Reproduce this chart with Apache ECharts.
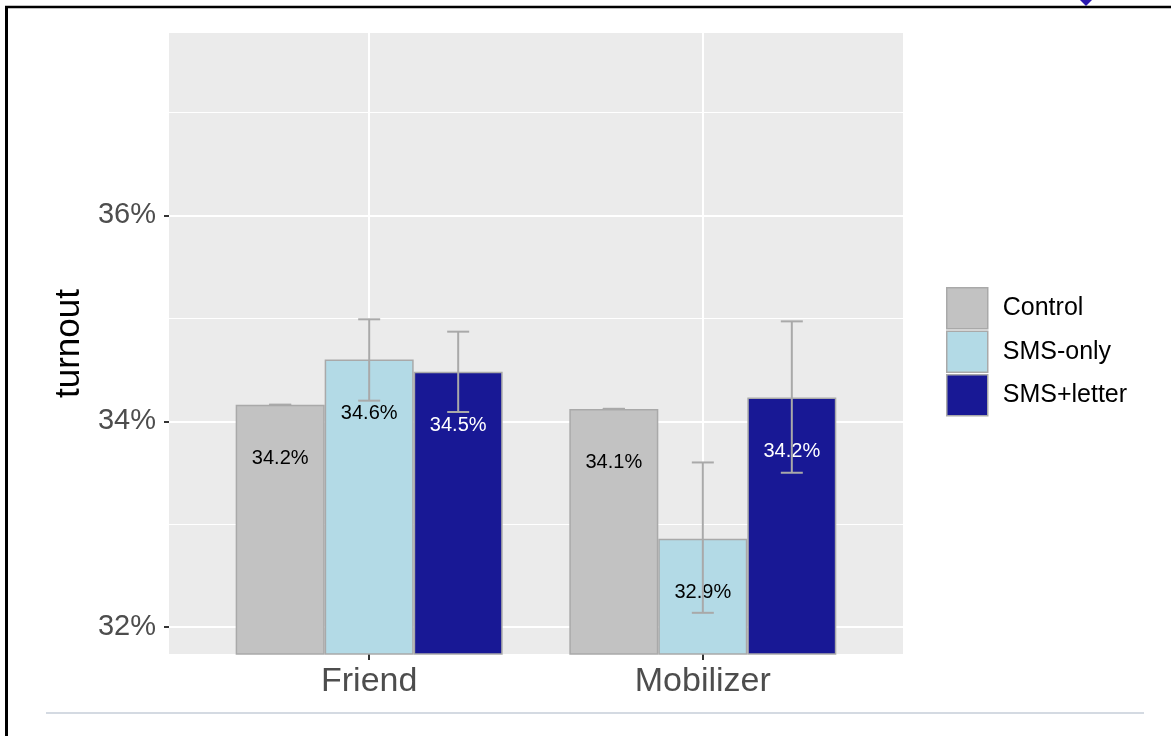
<!DOCTYPE html>
<html>
<head>
<meta charset="utf-8">
<script src="https://cdn.jsdelivr.net/npm/echarts@6/dist/echarts.min.js"></script>
<style>
  html, body { margin: 0; padding: 0; background: #fff; }
  #chart { width: 1171px; height: 736px; }
</style>
</head>
<body>
<div id="chart"></div>
<script>
// groups on the x axis (positions 1 and 2)
const groups = ['Friend', 'Mobilizer'];
const treatments = ['Control', 'SMS-only', 'SMS+letter'];

// turnout in percent, one array per treatment (Friend, Mobilizer)
const control = [34.16, 34.12];
const smsOnly = [34.60, 32.86];
const smsLetter = [34.48, 34.23];

// error bar ends (low, high) per treatment
const controlLow = [34.16, 34.12];
const controlHigh = [34.16, 34.12];
const smsOnlyLow = [34.20, 32.14];
const smsOnlyHigh = [34.99, 33.60];
const smsLetterLow = [34.09, 33.50];
const smsLetterHigh = [34.87, 34.97];

// axis ticks
const yMajor = [32, 34, 36];
const yMinor = [33, 35, 37];
const xTicks = [1, 2];

const colors = ['#C2C2C2', '#B3DAE6', '#181895'];
const labelColors = ['#000000', '#000000', '#ffffff'];
const font = 'Liberation Sans, Arial, sans-serif';
const barW = 89;

const chart = echarts.init(document.getElementById('chart'));

const values = [control, smsOnly, smsLetter];
const lows = [controlLow, smsOnlyLow, smsLetterLow];
const highs = [controlHigh, smsOnlyHigh, smsLetterHigh];

const barSeries = treatments.map((name, i) => ({
  name: name,
  type: 'bar',
  z: 2,
  barWidth: barW,
  barGap: '0%',
  data: values[i].map((v, g) => [g + 1, v]),
  itemStyle: { color: colors[i], borderColor: '#A9A9A9', borderWidth: 1.5 },
  label: {
    show: true,
    position: ['50%', 54],
    align: 'center',
    verticalAlign: 'middle',
    fontFamily: font,
    fontSize: 20,
    color: labelColors[i],
    formatter: p => p.value[1].toFixed(1) + '%'
  }
}));

// error bars: [x, low, high, treatment index]
const errData = [];
treatments.forEach((t, i) => {
  groups.forEach((g, gi) => errData.push([gi + 1, lows[i][gi], highs[i][gi], i]));
});

const errSeries = {
  type: 'custom',
  z: 4,
  silent: true,
  data: errData,
  renderItem: function (params, api) {
    const off = (api.value(3) - 1) * barW;
    const top = api.coord([api.value(0), api.value(2)]);
    const bot = api.coord([api.value(0), api.value(1)]);
    const x = top[0] + off;
    const cap = 11;
    const style = { stroke: '#A9A9A9', lineWidth: 2, fill: null };
    return {
      type: 'group',
      children: [
        { type: 'line', shape: { x1: x, y1: top[1], x2: x, y2: bot[1] }, style: style },
        { type: 'line', shape: { x1: x - cap, y1: top[1], x2: x + cap, y2: top[1] }, style: style },
        { type: 'line', shape: { x1: x - cap, y1: bot[1], x2: x + cap, y2: bot[1] }, style: style }
      ]
    };
  }
};

// panel grid lines drawn under the bars
const gridSeries = {
  type: 'line',
  z: 1,
  data: [],
  silent: true,
  markLine: {
    z: 1,
    silent: true,
    symbol: 'none',
    label: { show: false },
    animation: false,
    data: [
      ...yMajor.map(v => ({ yAxis: v, lineStyle: { color: '#fff', width: 2, type: 'solid' } })),
      ...yMinor.map(v => ({ yAxis: v, lineStyle: { color: '#fff', width: 1, type: 'solid' } })),
      ...xTicks.map(v => ({ xAxis: v, lineStyle: { color: '#fff', width: 2, type: 'solid' } }))
    ]
  }
};

const option = {
  animation: false,
  backgroundColor: '#fff',
  grid: {
    left: 169, right: 268, top: 33, bottom: 82,
    show: true, backgroundColor: '#EBEBEB', borderWidth: 0
  },
  xAxis: {
    type: 'value',
    min: 0.4,
    max: 2.6,
    splitLine: { show: false },
    axisLine: { show: false },
    axisTick: { show: true, customValues: xTicks, length: 6, lineStyle: { color: '#333', width: 2 } },
    axisLabel: {
      customValues: xTicks,
      formatter: v => groups[Math.round(v) - 1] || '',
      fontFamily: font, fontSize: 34, color: '#4D4D4D', margin: 11
    }
  },
  yAxis: {
    type: 'value',
    min: 31.74,
    max: 37.77,
    name: 'turnout',
    nameLocation: 'middle',
    nameRotate: 90,
    nameGap: 80,
    nameTextStyle: { fontFamily: font, fontSize: 35, color: '#000' },
    splitLine: { show: false },
    axisLine: { show: false },
    axisTick: { show: true, customValues: yMajor, length: 5, lineStyle: { color: '#333', width: 2 } },
    axisLabel: {
      customValues: yMajor,
      formatter: v => v + '%',
      fontFamily: font, fontSize: 29, color: '#4D4D4D', margin: 13
    }
  },
  legend: {
    orient: 'vertical',
    left: 941,
    top: 282,
    itemWidth: 41,
    itemHeight: 41,
    itemGap: 1,
    icon: 'rect',
    data: treatments,
    itemStyle: { borderColor: '#A9A9A9', borderWidth: 1.5 },
    textStyle: { fontFamily: font, fontSize: 25, color: '#000', padding: [4, 0, 0, 10] }
  },
  graphic: [
    { type: 'line', shape: { x1: 5, y1: 7, x2: 1171, y2: 7 }, style: { stroke: '#000', lineWidth: 2.5 } },
    { type: 'line', shape: { x1: 6.5, y1: 6, x2: 6.5, y2: 736 }, style: { stroke: '#000', lineWidth: 3 } },
    { type: 'line', shape: { x1: 46, y1: 713, x2: 1144, y2: 713 }, style: { stroke: '#C6CED8', lineWidth: 1.5 } },
    { type: 'polygon', shape: { points: [[1079, -1], [1086, -8], [1093, -1], [1086, 6]] }, style: { fill: '#2A18B0' } }
  ],
  series: [gridSeries, ...barSeries, errSeries]
};

chart.setOption(option);
window.addEventListener('resize', () => chart.resize());
</script>
</body>
</html>
